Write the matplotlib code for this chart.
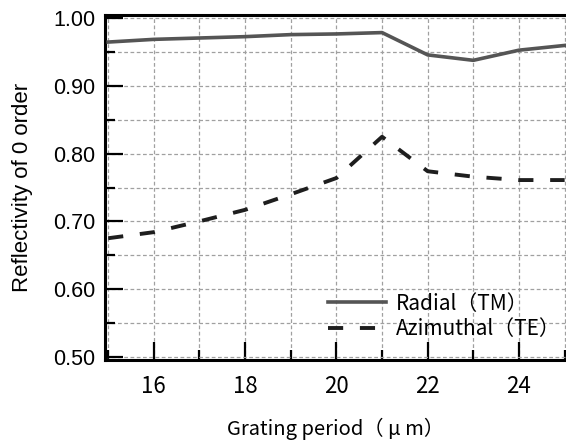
import matplotlib
matplotlib.use("Agg")
from matplotlib import pyplot as plt
from matplotlib.ticker import MultipleLocator

period = [15, 16, 17, 18, 19, 20, 21, 22, 23, 24, 25]
radial_tm = [0.965, 0.969, 0.971, 0.973, 0.976, 0.977, 0.979, 0.946, 0.938, 0.953, 0.960]
azimuthal_te = [0.675, 0.684, 0.700, 0.717, 0.740, 0.764, 0.825, 0.774, 0.766, 0.761, 0.761]
labels = ["Radial（TM）", "Azimuthal（TE）"]

jp = ["Noto Sans CJK JP", "DejaVu Sans"]
plt.rcParams["font.family"] = ["Liberation Sans", "DejaVu Sans"]

fig = plt.figure(figsize=(5.66, 4.41), dpi=100)
ax = fig.add_axes([105 / 566, 81 / 441, 461 / 566, 345 / 441])

ax.plot(period, radial_tm, color="#555555", lw=2.6, label=labels[0], zorder=3)
ax.plot(period, azimuthal_te, color="#1e1e1e", lw=2.8, ls=(0, (3.9, 4.3)),
        label=labels[1], zorder=3)

ax.set_xlim(14.93, 25.03)
ax.set_ylim(0.495, 1.005)
ax.xaxis.set_major_locator(MultipleLocator(2))
ax.xaxis.set_minor_locator(MultipleLocator(1))
ax.yaxis.set_major_locator(MultipleLocator(0.1))
ax.yaxis.set_minor_locator(MultipleLocator(0.05))
ax.yaxis.set_major_formatter(plt.FuncFormatter(lambda v, p: "%.2f" % v))

ax.grid(True, which="both", color="#a0a0a0", ls=(0, (3, 2)), lw=0.9, zorder=0)

ax.tick_params(which="major", direction="in", length=13, width=1.6, color="black")
ax.tick_params(which="minor", direction="in", length=7, width=1.6, color="black")
ax.tick_params(axis="y", pad=7, labelsize=15.5)
ax.tick_params(axis="x", pad=11, labelsize=16)
for t in ax.get_xticklabels():
    t.set_family(jp)

for s in ["left", "bottom", "top"]:
    ax.spines[s].set_linewidth(2.2)
    ax.spines[s].set_color("black")
ax.spines["right"].set_visible(False)

ax.set_ylabel("Reflectivity of 0 order", fontsize=16)
ax.yaxis.set_label_coords(-0.156, 0.5)
ax.set_xlabel("Grating period（ μ m）", fontsize=14.5, family=jp, labelpad=14)

ax.legend(loc="upper left", bbox_to_anchor=(0.484, 0.195), frameon=False,
          prop={"family": jp, "size": 15}, handlelength=2.8, handletextpad=0.45,
          borderpad=0, borderaxespad=0, labelspacing=0.15)

fig.savefig("out.png", dpi=100)
